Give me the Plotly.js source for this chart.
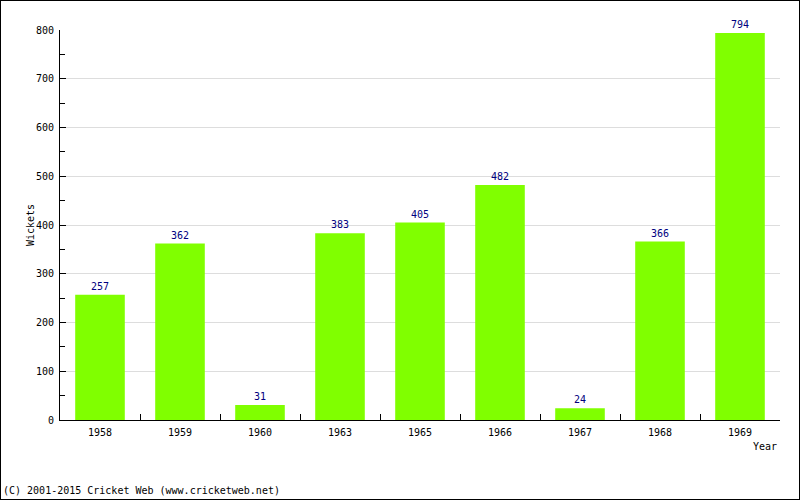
<!DOCTYPE html>
<html>
<head>
<meta charset="utf-8">
<script src="https://cdn.plot.ly/plotly-3.0.1.min.js"></script>
<style>
body{margin:0;padding:0;background:#fff;}
#wrap{position:relative;width:800px;height:500px;}
#chart{width:800px;height:500px;}
#frame{position:absolute;left:0;top:0;width:800px;height:500px;box-sizing:border-box;border:1px solid #000;pointer-events:none;}
</style>
</head>
<body>
<div id="wrap"><div id="chart"></div><div id="frame"></div></div>
<script>
var years = ["1958","1959","1960","1963","1965","1966","1967","1968","1969"];
var wickets = [257, 362, 31, 383, 405, 482, 24, 366, 794];

var fontFam = "DejaVu Sans Mono, monospace";
var fs = 10;

var trace = {
  type: "bar",
  x: years,
  y: wickets,
  width: 0.62,
  marker: {color: "#80FF00", line: {width: 0}},
  text: wickets.map(String),
  textposition: "outside",
  textfont: {family: fontFam, size: fs, color: "#000080"},
  cliponaxis: false,
  hoverinfo: "none"
};

var layout = {
  width: 800, height: 500,
  margin: {l: 60, r: 20, t: 30, b: 80, pad: 0},
  paper_bgcolor: "#fff", plot_bgcolor: "#fff",
  font: {family: fontFam, size: fs, color: "#000"},
  showlegend: false,
  xaxis: {
    type: "category",
    showline: true, linecolor: "#000", linewidth: 1,
    ticks: "inside", ticklen: 6, tickcolor: "#000", tickson: "boundaries",
    showgrid: false, zeroline: false,
    ticklabelstandoff: 3,
    tickfont: {family: fontFam, size: fs, color: "#000"},
    fixedrange: true
  },
  yaxis: {
    range: [0, 800],
    dtick: 100, tick0: 0,
    showline: true, linecolor: "#000", linewidth: 1,
    ticks: "inside", ticklen: 6, tickcolor: "#000",
    showgrid: true, gridcolor: "#dddddd", gridwidth: 1,
    zeroline: false,
    ticklabelstandoff: 3,
    minor: {dtick: 50, ticks: "inside", ticklen: 5, tickcolor: "#000", showgrid: false},
    tickfont: {family: fontFam, size: fs, color: "#000"},
    fixedrange: true
  },
  annotations: [
    {text: "Wickets", xref: "paper", yref: "paper", x: 0, y: 0.5, xanchor: "center", yanchor: "middle",
     xshift: -30, textangle: -90, showarrow: false, font: {family: fontFam, size: fs, color: "#000"}},
    {text: "Year", xref: "paper", yref: "paper", x: 1, y: 0, xanchor: "right", yanchor: "top",
     yshift: -19, xshift: -1, showarrow: false, font: {family: fontFam, size: fs, color: "#000"}},
    {text: "(C) 2001-2015 Cricket Web (www.cricketweb.net)", xref: "paper", yref: "paper",
     x: 0, y: 0, xanchor: "left", yanchor: "top", xshift: -59, yshift: -63,
     showarrow: false, font: {family: fontFam, size: fs, color: "#000"}}
  ]
};

Plotly.newPlot("chart", [trace], layout, {displayModeBar: false, staticPlot: true});
</script>
</body>
</html>
